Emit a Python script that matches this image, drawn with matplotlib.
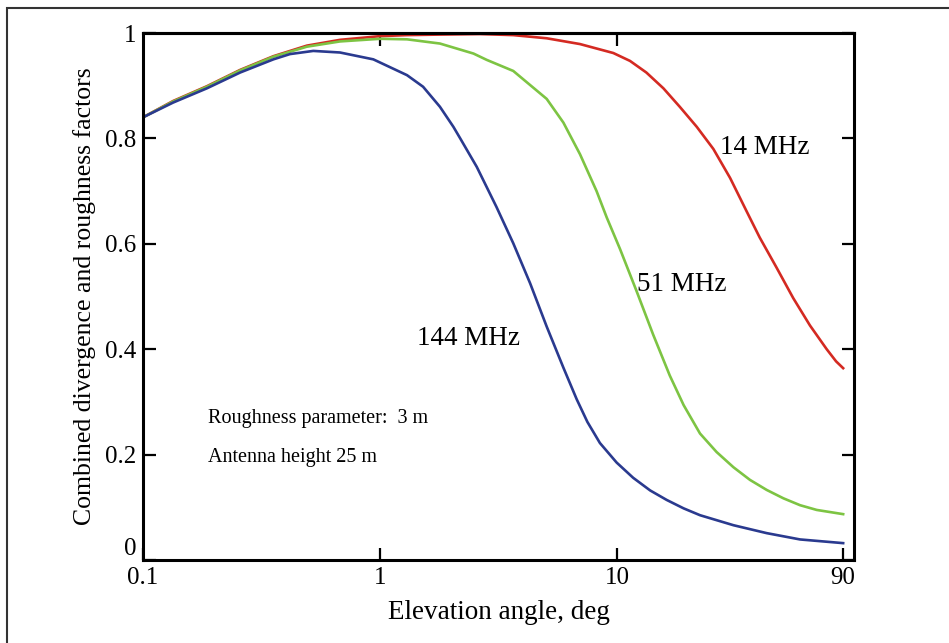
import matplotlib
matplotlib.use("Agg")
import matplotlib.pyplot as plt
from matplotlib.patches import Rectangle
from matplotlib.ticker import NullLocator, FixedLocator

plt.rcParams['font.family'] = ['Liberation Serif', 'DejaVu Serif']

# elevation angle (deg) and combined factor
x_14 = [0.1, 0.134, 0.186, 0.257, 0.355, 0.491, 0.678, 1.0, 1.3, 1.79, 2.64, 3.65, 5.05, 6.98, 9.65,
        11.35, 13.3, 15.7, 18.4, 21.7, 25.5, 30.0, 35.2, 40.0, 47.1, 55.4, 65.2, 76.7, 84.0, 90.0]
y_14 = [0.84, 0.871, 0.899, 0.930, 0.956, 0.976, 0.987, 0.994, 0.996, 0.997, 0.998, 0.996, 0.990, 0.979, 0.962,
        0.947, 0.925, 0.895, 0.860, 0.822, 0.780, 0.725, 0.662, 0.612, 0.555, 0.497, 0.445, 0.400, 0.377, 0.364]

x_51 = [0.1, 0.134, 0.186, 0.257, 0.355, 0.491, 0.678, 1.0, 1.3, 1.79, 2.48, 2.82, 3.65, 5.05, 5.94, 6.98,
        8.2, 9.05, 10.3, 12.1, 14.2, 16.7, 19.1, 22.4, 26.3, 31.0, 36.4, 42.8, 50.4, 59.2, 69.6, 90.0]
y_51 = [0.84, 0.870, 0.898, 0.929, 0.955, 0.974, 0.984, 0.989, 0.988, 0.980, 0.961, 0.949, 0.928, 0.875, 0.830, 0.770,
        0.700, 0.650, 0.590, 0.510, 0.428, 0.350, 0.294, 0.240, 0.205, 0.176, 0.152, 0.133, 0.117, 0.104, 0.095, 0.087]

x_144 = [0.1, 0.134, 0.186, 0.257, 0.355, 0.417, 0.523, 0.678, 0.937, 1.3, 1.52, 1.79, 2.04, 2.18, 2.56, 3.10, 3.65,
         4.30, 5.05, 5.94, 6.76, 7.5, 8.47, 9.96, 11.7, 13.8, 16.2, 19.1, 22.4, 31.0, 42.8, 59.2, 90.0]
y_144 = [0.84, 0.868, 0.895, 0.925, 0.950, 0.960, 0.966, 0.963, 0.950, 0.920, 0.898, 0.860, 0.822, 0.800, 0.746, 0.670, 0.601,
         0.525, 0.443, 0.365, 0.305, 0.262, 0.222, 0.185, 0.156, 0.132, 0.114, 0.098, 0.085, 0.066, 0.051, 0.039, 0.032]

fig = plt.figure(figsize=(9.49, 6.43), dpi=100)
ax = fig.add_axes([143/949, 1-560/643, (854-143)/949, (560-33)/643])

ax.plot(x_14, y_14, color='#d42a22', lw=1.9)
ax.plot(x_51, y_51, color='#7dc443', lw=1.9)
ax.plot(x_144, y_144, color='#2a3a8f', lw=1.9)

ax.set_xscale('log')
ax.set_xlim(0.1, 100)
ax.set_ylim(0, 1)
ax.set_xticks([0.1, 1, 10, 90])
ax.set_xticklabels(['0.1', '1', '10', '90'])
ax.xaxis.set_minor_locator(NullLocator())
ax.set_yticks([0, 0.2, 0.4, 0.6, 0.8, 1])
ax.set_yticklabels(['0', '0.2', '0.4', '0.6', '0.8', '1'])
ax.tick_params(direction='in', length=9, width=1.6, labelsize=18, pad=5, right=True)
ax.get_yticklabels()[0].set_verticalalignment('bottom')
for s in ax.spines.values():
    s.set_linewidth(2.2)

top = ax.secondary_xaxis('top')
top.xaxis.set_major_locator(FixedLocator([1, 10]))
top.xaxis.set_minor_locator(NullLocator())
top.tick_params(direction='in', length=9, width=1.6, labeltop=False)
top.spines['top'].set_linewidth(2.2)

ax.set_xlabel('Elevation angle, deg', fontsize=19.5, labelpad=8)
ax.set_ylabel('Combined divergence and roughness factors', fontsize=18.5, labelpad=6)

ax.text(27.2, 0.782, '14 MHz', fontsize=19.5, va='center')
ax.text(12.1, 0.522, '51 MHz', fontsize=19.5, va='center')
ax.text(1.43, 0.421, '144 MHz', fontsize=19.5, va='center')
ax.text(0.188, 0.269, 'Roughness parameter:  3 m', fontsize=14.5, va='center')
ax.text(0.188, 0.195, 'Antenna height 25 m', fontsize=14.5, va='center')

fig.patches.append(Rectangle((7/949, -0.1), 1.2, 1.1 - 8/643, transform=fig.transFigure,
                             fill=False, edgecolor='#333333', lw=1.5))

fig.savefig('out.png', dpi=100)
